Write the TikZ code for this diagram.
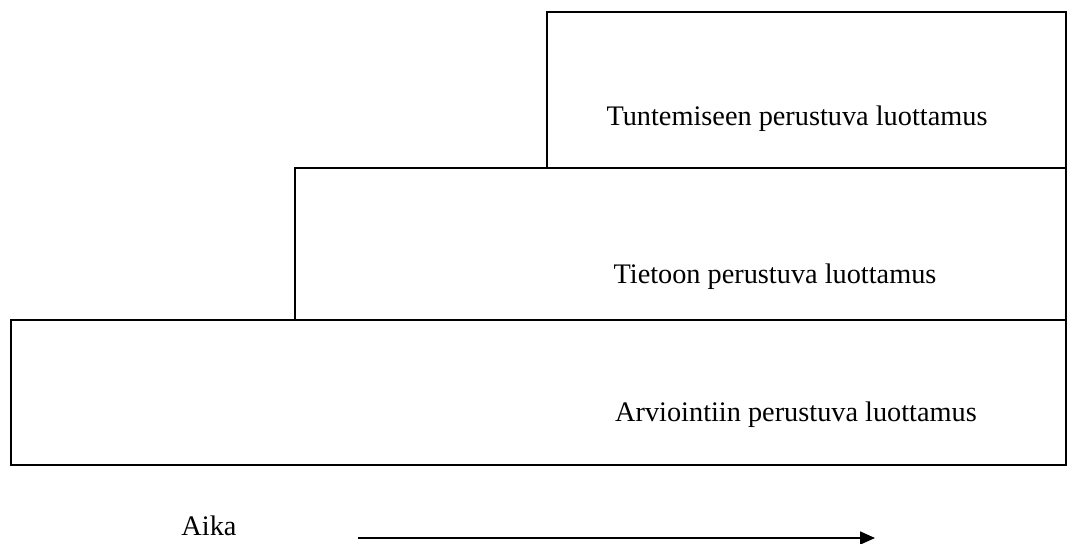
\documentclass[tikz,border=0pt]{standalone}
\usepackage{fontspec}
\setmainfont{Liberation Serif}
\usetikzlibrary{arrows.meta}

\tikzset{
    kerros/.style={draw, line width=1.8pt, rectangle, inner sep=0pt},
    teksti/.style={anchor=base, inner sep=0pt, font=\fontsize{28.3}{34}\selectfont}
}

\begin{document}
\begin{tikzpicture}[x=1pt, y=-1pt]
                \useasboundingbox (0,0) rectangle (1072,544);

                % kolme kerrosta
                \node[kerros, minimum width=519pt, minimum height=156pt] (tuntem) at (806.5,90) {};
                \node[kerros, minimum width=771pt, minimum height=152pt] (tieto) at (680.5,244) {};
                \node[kerros, minimum width=1055pt, minimum height=145pt] (arvio) at (538.5,392.5) {};

                \node[teksti] (tuntemteksti) at (797,125) {Tuntemiseen perustuva luottamus};
                \node[teksti] (tietoteksti) at (775,283) {Tietoon perustuva luottamus};
                \node[teksti] (arvioteksti) at (796,421) {Arviointiin perustuva luottamus};

                % aika-akseli
                \node[teksti] (aika) at (209,535) {Aika};
                \coordinate (alku) at (358,538); \coordinate (loppu) at (875,538);
                \draw[line width=1.8pt, -{Triangle[length=15pt, width=13pt]}] (alku) -- (loppu);
            \end{tikzpicture}
\end{document}
